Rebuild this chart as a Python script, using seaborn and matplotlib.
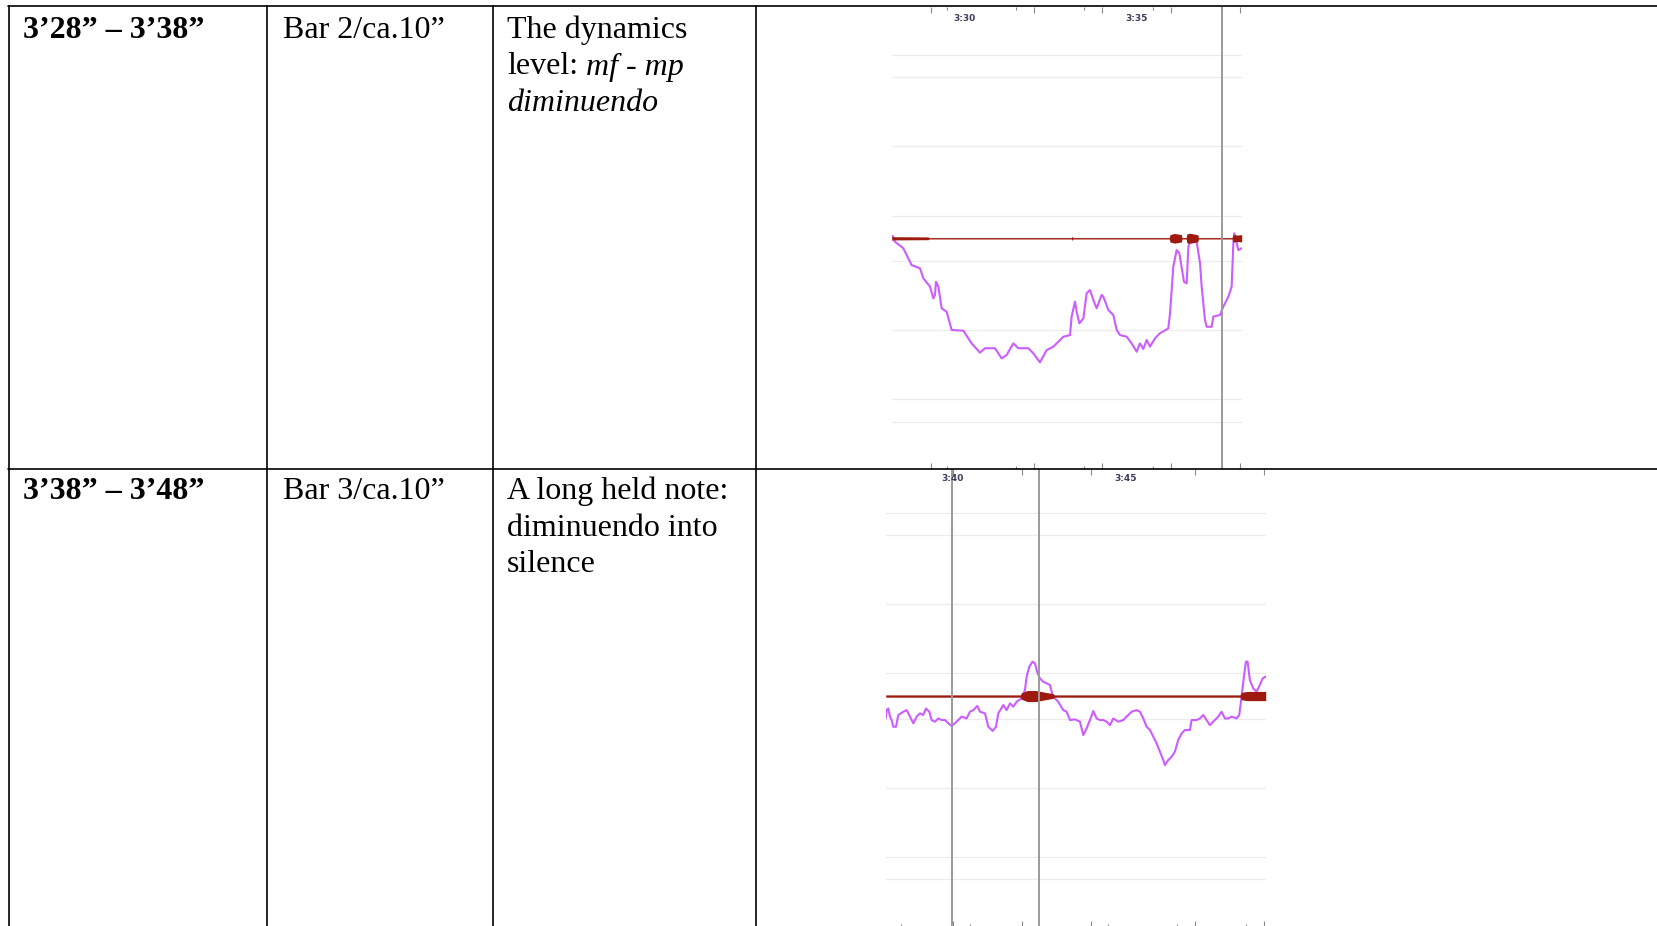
import numpy as np
import matplotlib
matplotlib.use("Agg")
import matplotlib.pyplot as plt
import seaborn as sns
from matplotlib.lines import Line2D

# ---------------- data ----------------
row_times = ["3’28” – 3’38”", "3’38” – 3’48”"]
row_bars = ["Bar 2/ca.10”", "Bar 3/ca.10”"]
# each description line is a list of (text, style) pieces
row_desc = [
    [[("The dynamics", "normal")],
     [("level:", "normal"), ("mf - mp", "italic")],
     [("diminuendo", "italic")]],
    [[("A long held note:", "normal")],
     [("diminuendo into", "normal")],
     [("silence", "normal")]],
]

# chart 1 : dynamics curve (time in s, level)
c1_time = [207.894, 207.962, 208.204, 208.350, 208.447, 208.690, 208.787, 208.981,
           209.078, 209.127, 209.156, 209.224, 209.321, 209.466, 209.612, 209.952,
           210.194, 210.437, 210.583, 210.874, 211.068, 211.214, 211.408, 211.553,
           211.845, 211.990, 212.184, 212.378, 212.573, 212.718, 212.864, 213.058,
           213.106, 213.203, 213.252, 213.330, 213.446, 213.543, 213.640, 213.737,
           213.834, 213.980, 214.029, 214.174, 214.320, 214.417, 214.514, 214.708,
           214.854, 214.999, 215.096, 215.193, 215.291, 215.388, 215.533, 215.679,
           215.921, 215.970, 216.067, 216.164, 216.242, 216.378, 216.455, 216.504,
           216.552, 216.698, 216.747, 216.844, 216.892, 216.989, 217.038, 217.183,
           217.232, 217.426, 217.523, 217.669, 217.766, 217.814, 217.843, 217.892,
           217.960, 218.057]
c1_level = [0.010, -0.015, -0.043, -0.087, -0.116, -0.130, -0.173, -0.209,
            -0.260, -0.245, -0.188, -0.209, -0.303, -0.318, -0.397, -0.400,
            -0.455, -0.495, -0.476, -0.476, -0.520, -0.505, -0.455, -0.476,
            -0.476, -0.498, -0.537, -0.484, -0.469, -0.448, -0.426, -0.419,
            -0.339, -0.274, -0.318, -0.368, -0.347, -0.238, -0.224, -0.267,
            -0.303, -0.245, -0.253, -0.310, -0.332, -0.397, -0.419, -0.426,
            -0.455, -0.491, -0.455, -0.479, -0.440, -0.469, -0.433, -0.411,
            -0.390, -0.325, -0.123, -0.051, -0.065, -0.188, -0.195, -0.043,
            0.007, 0.007, -0.015, -0.108, -0.209, -0.354, -0.383, -0.383,
            -0.339, -0.332, -0.296, -0.253, -0.209, -0.022, 0.022, -0.007,
            -0.051, -0.043]

# chart 1 : waveform envelope (time, half amplitude)
w1_time = [207.866, 207.894, 208.93, 208.95, 213.10, 213.12, 213.14, 215.95, 215.97,
           216.10, 216.30, 216.32, 216.44, 216.46, 216.55, 216.78, 216.80, 217.78,
           217.80, 217.95, 218.058]
w1_amp = [0.010, 0.007, 0.006, 0.003, 0.003, 0.009, 0.003, 0.003, 0.016,
          0.021, 0.016, 0.003, 0.003, 0.019, 0.022, 0.015, 0.003, 0.003,
          0.016, 0.014, 0.016]

# chart 2 : dynamics curve
c2_time = [218.054, 218.083, 218.131, 218.179, 218.227, 218.275, 218.352, 218.420,
           218.564, 218.661, 218.757, 218.853, 218.950, 219.046, 219.142, 219.219,
           219.316, 219.383, 219.480, 219.576, 219.672, 219.769, 219.865, 219.961,
           220.106, 220.250, 220.395, 220.491, 220.588, 220.703, 220.780, 220.925,
           221.021, 221.146, 221.243, 221.310, 221.455, 221.551, 221.647, 221.744,
           221.840, 221.984, 222.081, 222.129, 222.206, 222.302, 222.370, 222.447,
           222.514, 222.611, 222.707, 222.803, 222.851, 222.900, 223.044, 223.189,
           223.285, 223.381, 223.526, 223.670, 223.767, 223.863, 223.959, 224.056,
           224.152, 224.248, 224.345, 224.441, 224.537, 224.634, 224.778, 224.923,
           225.019, 225.164, 225.308, 225.405, 225.501, 225.597, 225.694, 225.790,
           225.886, 225.983, 226.079, 226.127, 226.224, 226.320, 226.416, 226.513,
           226.609, 226.705, 226.850, 226.898, 227.042, 227.139, 227.235, 227.331,
           227.428, 227.524, 227.669, 227.765, 227.861, 227.958, 228.054, 228.199,
           228.275, 228.343, 228.410, 228.468, 228.516, 228.583, 228.680, 228.776,
           228.873, 228.950, 229.036]
c2_level = [-0.097, -0.061, -0.054, -0.089, -0.104, -0.133, -0.133, -0.082,
            -0.068, -0.061, -0.089, -0.118, -0.089, -0.075, -0.082, -0.054,
            -0.068, -0.104, -0.111, -0.097, -0.104, -0.104, -0.118, -0.130,
            -0.111, -0.089, -0.097, -0.068, -0.061, -0.043, -0.068, -0.075,
            -0.133, -0.151, -0.133, -0.075, -0.039, -0.061, -0.032, -0.046,
            -0.025, -0.010, 0.026, 0.084, 0.127, 0.149, 0.141, 0.098,
            0.076, 0.062, 0.055, 0.048, 0.019, -0.003, -0.025, -0.061,
            -0.068, -0.104, -0.101, -0.111, -0.169, -0.140, -0.104, -0.065,
            -0.097, -0.104, -0.104, -0.111, -0.126, -0.097, -0.111, -0.104,
            -0.089, -0.068, -0.061, -0.068, -0.097, -0.133, -0.147, -0.176,
            -0.205, -0.241, -0.277, -0.299, -0.277, -0.263, -0.241, -0.190,
            -0.162, -0.147, -0.147, -0.104, -0.104, -0.097, -0.082, -0.104,
            -0.126, -0.111, -0.089, -0.068, -0.097, -0.097, -0.089, -0.097,
            -0.082, -0.003, 0.084, 0.149, 0.149, 0.069, 0.033, 0.019,
            0.048, 0.076, 0.084]

# chart 2 : waveform envelope
w2_time = [218.055, 221.95, 221.98, 222.15, 222.40, 222.60, 222.90, 222.93,
           228.30, 228.34, 228.50, 229.04]
w2_amp = [0.005, 0.005, 0.014, 0.024, 0.024, 0.018, 0.010, 0.005,
          0.005, 0.016, 0.020, 0.020]

grid_levels = [0.098, 0.398, 0.697, 0.794]

c1_xlim = (207.866, 218.058)
c2_xlim = (218.055, 229.04)
c1_major = [209, 212, 214, 216, 218]
c1_minor = [209.47, 211.48, 213.47, 215.48, 217.48]
c2_top = [220, 222, 224, 227, 229]
c2_major = [220, 222, 224, 227, 229]
c2_minor = [218.49, 220.49, 224.47, 226.47, 228.47]
c1_label_t = [210, 215]
c1_label_s = ["3:30", "3:35"]
c2_label_t = [220, 225]
c2_label_s = ["3:40", "3:45"]
c1_marks = [217.48]
c2_marks = [219.98, 222.49]

# ---------------- styling ----------------
MAGENTA = "#cc5cff"
WAVE = "#9e1a0e"
GRID = "#ececec"
MARK = "#9a9a9a"
TICK = "#8a8a8a"

sns.set_theme(style="white")
plt.rcParams["font.family"] = ["Liberation Serif", "DejaVu Serif"]
plt.rcParams["text.color"] = "black"

W, H = 1658, 926
fig = plt.figure(figsize=(W / 100, H / 100), dpi=100)
fig.patch.set_facecolor("white")


def fx(px):
    return px / W


def fy(py):
    return 1 - py / H


def make_chart(rect, xlim, ylim, t, lvl, wt, wa, top_major, top_minor,
               bot_major, bot_minor, marks, lab_t, lab_s, lab_y):
    ax = fig.add_axes(rect)
    ax.set_xlim(xlim)
    ax.set_ylim(ylim)
    ax.set_facecolor("none")
    for s in ax.spines.values():
        s.set_visible(False)
    for g in grid_levels:
        ax.axhline(g, color=GRID, lw=0.9, zorder=1)
        ax.axhline(-g, color=GRID, lw=0.9, zorder=1)
    sns.lineplot(x=t, y=lvl, ax=ax, color=MAGENTA, linewidth=1.5,
                 sort=False, estimator=None, zorder=3)
    wa = np.asarray(wa)
    ax.fill_between(wt, -wa, wa, color=WAVE, lw=0, zorder=4)
    for m in marks:
        ax.axvline(m, color=MARK, lw=1.4, zorder=5)
    ax.set_xlabel("")
    ax.set_ylabel("")
    ax.set_yticks([])
    ax.set_xticks(bot_major)
    ax.set_xticks(bot_minor, minor=True)
    ax.tick_params(axis="x", which="major", direction="in", length=4.3,
                   width=0.8, color=TICK, bottom=True, top=False,
                   labelbottom=False)
    ax.tick_params(axis="x", which="minor", direction="in", length=1.9,
                   width=0.8, color=TICK, bottom=True, top=False,
                   labelbottom=False)
    sec = ax.secondary_xaxis("top")
    for s in sec.spines.values():
        s.set_visible(False)
    sec.set_xticks(top_major)
    sec.set_xticks(top_minor, minor=True)
    sec.tick_params(axis="x", which="major", direction="in", length=4.3,
                    width=0.8, color=TICK, labeltop=False)
    sec.tick_params(axis="x", which="minor", direction="in", length=1.9,
                    width=0.8, color=TICK, labeltop=False)
    for lt, ls in zip(lab_t, lab_s):
        ax.text(lt, lab_y, ls, transform=ax.get_xaxis_transform(),
                ha="center", va="center", fontsize=6.5, fontweight="bold",
                family="DejaVu Sans", color="#3c3c5c", zorder=6)
    return ax


# chart 1 : pixels x 891.7-1241.7, y 7.3-469.3
make_chart([fx(891.7), fy(469.3), 350 / W, 462 / H], c1_xlim, (-1, 1),
           c1_time, c1_level, w1_time, w1_amp, c1_major, c1_minor,
           c1_major, c1_minor, c1_marks, c1_label_t, c1_label_s, 0.975)
# chart 2 : pixels x 885.7-1265.7, y 469-927
make_chart([fx(885.7), fy(927), 380 / W, 458 / H], c2_xlim, (-1.0, 0.983),
           c2_time, c2_level, w2_time, w2_amp, c2_top, [],
           c2_major, c2_minor, c2_marks, c2_label_t, c2_label_s, 0.98)

# ---------------- table ----------------
LW = 1.2
def hline(y, x0, x1):
    fig.add_artist(Line2D([fx(x0), fx(x1)], [fy(y), fy(y)], color="black",
                          lw=LW, transform=fig.transFigure, zorder=10))

def vline(x, y0, y1):
    fig.add_artist(Line2D([fx(x), fx(x)], [fy(y0), fy(y1)], color="black",
                          lw=LW, transform=fig.transFigure, zorder=10))

hline(6.3, 8.4, W)
hline(468.8, 8.4, W)
for xv in [9.0, 267.0, 493.5, 756.0]:
    vline(xv, 5.6, H)

FS = 23
renderer = fig.canvas.get_renderer()
row_base = [38, 499]
pitch = 36.5
for r in range(2):
    yb = row_base[r]
    fig.text(fx(23), fy(yb), row_times[r], fontsize=FS, fontweight="bold",
             ha="left", va="baseline", color="black")
    fig.text(fx(283), fy(yb), row_bars[r], fontsize=FS, ha="left",
             va="baseline", color="black")
    for i, pieces in enumerate(row_desc[r]):
        x = 507.0
        y = yb + i * pitch
        for j, (txt, sty) in enumerate(pieces):
            if j > 0:
                x += 0.25 * FS * 100 / 72
            t = fig.text(fx(x), fy(y), txt, fontsize=FS, style=sty,
                         ha="left", va="baseline", color="black")
            x += t.get_window_extent(renderer).width

fig.savefig("out.png", dpi=100, facecolor="white")
